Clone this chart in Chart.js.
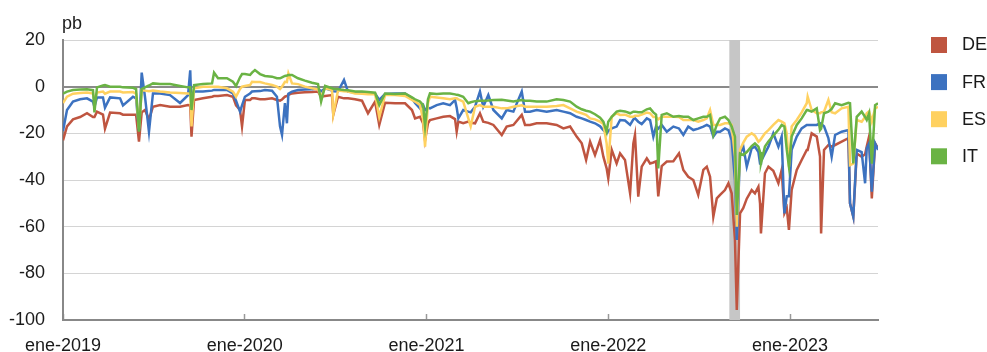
<!DOCTYPE html>
<html>
<head>
<meta charset="utf-8">
<script src="https://cdn.jsdelivr.net/npm/chart.js@4.4.1/dist/chart.umd.min.js"></script>
<style>
  html, body { margin: 0; padding: 0; background: #fff; }
  #caja { width: 987px; height: 352px; }
</style>
</head>
<body>
<div id="caja"><canvas id="grafico" width="987" height="352"></canvas></div>
<script>
// fechas en años decimales (2019.0 = 1 ene 2019)
var fechas = [
  2019.000, 2019.022, 2019.055, 2019.094, 2019.132, 2019.165, 2019.173, 2019.187, 2019.220, 2019.231,
  2019.259, 2019.314, 2019.330, 2019.385, 2019.402, 2019.418, 2019.433, 2019.451, 2019.473, 2019.495,
  2019.534, 2019.589, 2019.644, 2019.688, 2019.700, 2019.707, 2019.721, 2019.770, 2019.820, 2019.831,
  2019.853, 2019.902, 2019.935, 2019.952, 2019.974, 2019.985, 2020.001, 2020.029,
  2020.040, 2020.056, 2020.084, 2020.111, 2020.150, 2020.177, 2020.194, 2020.205, 2020.221, 2020.232,
  2020.240, 2020.260, 2020.293, 2020.331, 2020.370, 2020.403, 2020.420, 2020.442, 2020.480, 2020.487,
  2020.513, 2020.546, 2020.568, 2020.607, 2020.645, 2020.678, 2020.717, 2020.740, 2020.772, 2020.827,
  2020.882, 2020.920, 2020.937, 2020.964, 2020.981, 2020.992, 2021.008,
  2021.019, 2021.056, 2021.092, 2021.129, 2021.157, 2021.166, 2021.175, 2021.202, 2021.230, 2021.243,
  2021.267, 2021.294, 2021.312, 2021.340, 2021.368, 2021.414, 2021.441, 2021.478, 2021.524, 2021.542,
  2021.569, 2021.606, 2021.661, 2021.716, 2021.753, 2021.790, 2021.826, 2021.854, 2021.878, 2021.900,
  2021.927, 2021.955, 2021.973, 2021.991, 2022.000, 2022.019, 2022.046,
  2022.065, 2022.092, 2022.120, 2022.138, 2022.147, 2022.165, 2022.184, 2022.212, 2022.230, 2022.248,
  2022.263, 2022.275, 2022.294, 2022.322, 2022.358, 2022.389, 2022.413, 2022.440, 2022.468, 2022.495,
  2022.523, 2022.542, 2022.560, 2022.578, 2022.597, 2022.615, 2022.642, 2022.661, 2022.679, 2022.697,
  2022.707,
  2022.725, 2022.743, 2022.762, 2022.789, 2022.807, 2022.826, 2022.835, 2022.840, 2022.862, 2022.881,
  2022.908, 2022.936, 2022.954, 2022.969, 2022.982, 2022.994, 2023.009, 2023.037, 2023.064, 2023.092,
  2023.097, 2023.119, 2023.147, 2023.165, 2023.171, 2023.187, 2023.211, 2023.229, 2023.248, 2023.284,
  2023.321, 2023.330, 2023.348, 2023.367, 2023.394, 2023.413, 2023.422, 2023.435, 2023.450, 2023.468,
  2023.484
];

var de = [
  -23, -17, -14, -13, -11.4, -13, -13, -10.7, -12, -18,
  -11.1, -11.4, -12, -12, -12, -23.6, -11, -10, -14, -8.6,
  -7.9, -8.6, -8.6, -7.9, -8, -21.4, -5.7, -5, -4.3, -4,
  -4, -3.6, -4.3, -8, -10, -17, -5.7, -5.7,
  -5, -5, -5.4, -5.4, -5, -5.7, -6, -5.5, -4.3, -4,
  -3.5, -2.9, -2.6, -2.4, -2.3, -2.1, -4.3, -4, -3.6, -12,
  -4.3, -5, -5, -5.4, -6, -11.4, -6.4, -16.4, -6.9, -7.1,
  -7.1, -10, -13.6, -12.9, -15.7, -22.9, -15.7,
  -14.3, -13.6, -12.9, -12.6, -13.9, -19.3, -15, -15.7, -15, -15.5,
  -15.7, -11.4, -15, -15.5, -16.4, -20.7, -17.1, -16.4, -12.1, -16.4,
  -16.4, -15.7, -15.7, -16.4, -17.9, -17.1, -21.4, -24.3, -31.4, -23.6,
  -29.3, -22.9, -30, -35, -39.3, -27.1, -32.9,
  -28.6, -31.4, -45.7, -24.3, -20.7, -47.1, -34.3, -30.7, -32.9, -32.5,
  -32, -47, -34, -32.1, -32, -28.6, -35.7, -38.6, -40, -46.4,
  -35.7, -34.3, -38.6, -55.7, -47.9, -46.4, -44.3, -41.4, -45.7, -65.7,
  -95.7,
  -54.3, -52, -48, -44.3, -45.7, -42.9, -50, -62.9, -37.1, -34.3,
  -36, -41.4, -35.7, -54.3, -52, -61.4, -44.3, -35.7, -31.4, -27.1,
  -27.1, -20, -21.4, -30, -62.9, -27.1, -25, -25.7, -25, -23.6,
  -22.1, -50, -55.7, -28.6, -30, -29, -25.7, -21.4, -47.9, -24.3,
  -26.4
];

var fr = [
  -19, -10, -6.4, -5.4, -5, -6.4, -8.6, -4.6, -4.6, -9,
  -4.6, -5, -8, -4.3, -5, -19, 6, -4.3, -19.3, -2.9,
  -2.9, -3.6, -7, -3.6, 7, -10, -2.1, -2.1, -1.7, -1.4,
  -1.4, -1.4, -2.9, -6, -10.7, -8, -4.3, -2.9,
  -2.1, -2, -1.9, -1.4, -1.7, -4.3, -17, -20.7, -7, -15.7,
  -3, -2.1, -1.4, -1.2, -1.1, -0.7, -2, -0.7, -1.7, -2,
  -2.1, 2.9, -2.1, -2.5, -2.6, -2.9, -2.9, -5.7, -3.1, -2.9,
  -2.9, -5, -7, -9.3, -7.9, -10, -9,
  -9.3, -7.9, -7.1, -7.9, -5.7, -9, -13.6, -10, -10.7, -11,
  -8.6, -2.1, -8.6, -3.6, -10, -13.6, -10, -10.7, -2.1, -10.7,
  -10.7, -10, -10.7, -10, -10.7, -11.4, -12.9, -13.6, -14.3, -15,
  -15.7, -17, -18.6, -20, -19, -17.9, -17.1,
  -14.3, -14.5, -16.4, -14, -13.6, -15, -16, -13.6, -14.3, -21.4,
  -17, -18, -16.4, -19.3, -17.1, -17.9, -20.7, -17.1, -18.6, -18,
  -17.1, -16.4, -17.1, -21.4, -19.3, -19.3, -17.9, -18.6, -22.9, -40,
  -65.7,
  -28.6, -25.7, -34.3, -26.4, -25.7, -28, -32.9, -32, -28.6, -25.7,
  -20, -25.7, -21.4, -54.3, -47, -47, -27.1, -21.4, -17.9, -16.4,
  -16.4, -16.4, -16.4, -15.7, -16, -17, -22, -30, -20.7, -19.3,
  -18.6, -50, -55.7, -27.1, -28, -41.4, -26.4, -24.3, -45, -24.3,
  -27.1
];

var es = [
  -7, -4.3, -3, -2.7, -2.5, -2.9, -6, -2.5, -2.1, -3,
  -2.1, -2.1, -2.5, -2.3, -3, -18, -1.5, -1.7, -2, -1.7,
  -2.1, -2.5, -2.7, -2.9, -3, -17, -0.7, 0, 0, 0,
  0, -0.7, -2.1, -4.3, -1, 0, 0.3, 0.7,
  2.1, 2, 2, 1.4, 0.7, 0, -1, 0, 2.1, 2,
  5.7, 1.4, 1.1, 0, -0.7, -1.1, -4.3, -0.7, -1.4, -12,
  -1.7, -2, -2.1, -2.9, -3, -3.2, -3.2, -13, -3.6, -3.6,
  -4, -5.7, -6.4, -7.9, -14, -25.7, -7.1,
  -4.3, -4.6, -5, -5.4, -5, -5, -5.4, -6.4, -13.6, -17,
  -8.6, -7.9, -8.6, -8.6, -8.6, -9.3, -9.3, -8.6, -8, -8.6,
  -8.6, -8.6, -8.6, -8.3, -7.9, -9.3, -10.7, -11.4, -12.1, -13.6,
  -14, -15, -16, -24.3, -33, -12.9, -11.4,
  -12.1, -12, -12.9, -12.9, -12.5, -12.5, -12, -11.1, -11.4, -13,
  -13, -14, -12.9, -12.9, -12.9, -13, -14.3, -14.3, -14.3, -15,
  -14.3, -13.6, -10, -16.4, -16.4, -16.4, -15.7, -15.7, -16.4, -30,
  -60,
  -27, -24, -21.4, -20, -21, -23.6, -23, -23, -20, -18.6,
  -16.4, -14.3, -15, -15.7, -20, -34.3, -17.1, -14.3, -11, -7.1,
  -4.3, -10, -11.4, -11.4, -11, -10.7, -5.7, -11, -11.4, -9.3,
  -8.6, -33.6, -33, -14.3, -15, -13, -11.4, -10.5, -15, -9.3,
  -8.6
];

var it = [
  -3, -2.1, -1.4, -1.2, -1.1, -1.5, -11, -0.3, 0.5, 0.7,
  0, 0, -0.3, -0.5, -1, -19.3, -1, -0.3, 0.5, 1.4,
  1.1, 1.1, 0.3, -0.3, -0.3, -10, 0.7, 1.1, 1.4, 6,
  3.6, 3.6, 2.1, 0.3, 4, 5.4, 5.4, 5,
  6, 7.1, 5.4, 4.6, 4.3, 3.6, 3.6, 4, 4.6, 4.8,
  5, 5, 3.6, 2.6, 1.7, 1.1, -6.4, 0.3, -0.7, -0.9,
  -1.1, -1.4, -1.5, -2.1, -2.1, -2.3, -2.6, -7.9, -2.9, -3.1,
  -2.9, -4.6, -5.4, -6.4, -7.9, -17, -5.4,
  -2.9, -3.1, -2.9, -2.9, -3.3, -3.5, -3.6, -4.3, -7.1, -6.7,
  -6.2, -6, -6, -5.9, -5.7, -5.6, -5.9, -6.4, -5.7, -6,
  -6, -6.4, -6.4, -5.4, -5.7, -6.4, -8.6, -9.7, -10.3, -10.7,
  -11.8, -13.3, -15, -19.3, -15, -12.9, -10.7,
  -10.3, -10.6, -11.4, -10.7, -10.7, -11, -11, -9.7, -9.3, -11,
  -12, -35, -12.1, -11.4, -12.9, -12.6, -12.9, -12.9, -14.3, -13.6,
  -12.9, -12.9, -12.1, -20.7, -16.4, -13.6, -12.9, -14.3, -17.1, -21.4,
  -55,
  -28.6, -29.3, -28, -25.5, -24.3, -25.7, -28, -32.9, -25.7, -23.5,
  -21, -18.5, -16.4, -17.1, -27, -34.3, -21.4, -16.4, -13.6, -10,
  -10, -10.7, -9.3, -18.6, -18, -11.4, -10.7, -9.5, -7.1, -7.9,
  -6.9, -7.1, -32.9, -12.9, -10.7, -13, -14.3, -11.4, -33, -7.9,
  -7.1
];

var series = ['DE', 'FR', 'ES', 'IT'];
var colores = ['#BF5540', '#3C72C0', '#FFD160', '#6AB344'];
var valores = [de, fr, es, it];

var anosEje = [2019, 2020, 2021, 2022, 2023];
var etiquetasEje = ['ene-2019', 'ene-2020', 'ene-2021', 'ene-2022', 'ene-2023'];
var fechaFin = 2023.484;
var bandaInicio = 2022.666;
var bandaFin = 2022.725;

var fuente = '"Liberation Sans", Arial, Helvetica, sans-serif';
Chart.defaults.font.family = fuente;
Chart.defaults.color = '#1a1a1a';

var bandaPlugin = {
  id: 'banda',
  beforeDatasetsDraw: function (chart) {
    var x = chart.scales.x, a = chart.chartArea, ctx = chart.ctx;
    var x1 = x.getPixelForValue(bandaInicio), x2 = x.getPixelForValue(bandaFin);
    ctx.save();
    ctx.fillStyle = '#C6C6C6';
    ctx.fillRect(x1, a.top, x2 - x1, a.bottom - a.top);
    ctx.restore();
  }
};

var textosPlugin = {
  id: 'textos',
  afterDraw: function (chart) {
    var ctx = chart.ctx;
    ctx.save();
    ctx.font = '18px ' + fuente;
    ctx.fillStyle = '#1a1a1a';
    ctx.textBaseline = 'alphabetic';
    ctx.fillText('pb', 62, 29);
    // leyenda a la derecha
    ctx.textBaseline = 'middle';
    chart.data.datasets.forEach(function (d, i) {
      var y = 37 + i * 37.1;
      ctx.fillStyle = d.borderColor;
      ctx.fillRect(931, y, 16, 16);
      ctx.fillStyle = '#1a1a1a';
      ctx.fillText(d.label, 962, y + 8.5);
    });
    ctx.restore();
  }
};

var conjuntos = series.map(function (nombre, i) {
  return {
    label: nombre,
    data: fechas.map(function (f, j) { return { x: f, y: valores[i][j] }; }),
    borderColor: colores[i],
    backgroundColor: colores[i],
    borderWidth: 2.5,
    pointRadius: 0,
    tension: 0,
    order: series.length - 1 - i
  };
});

new Chart(document.getElementById('grafico'), {
  type: 'line',
  data: { datasets: conjuntos },
  options: {
    responsive: false,
    animation: false,
    layout: { padding: { top: 40, right: 109, left: 0, bottom: 0 } },
    plugins: { legend: { display: false }, tooltip: { enabled: false } },
    scales: {
      x: {
        type: 'linear',
        min: anosEje[0],
        max: fechaFin,
        afterBuildTicks: function (s) {
          s.ticks = anosEje.map(function (a) { return { value: a }; });
        },
        afterFit: function (s) { s.height = 32; },
        ticks: {
          font: { size: 18 },
          padding: 21,
          maxRotation: 0,
          autoSkip: false,
          callback: function (v) {
            var k = anosEje.indexOf(v);
            return k >= 0 ? etiquetasEje[k] : '';
          }
        },
        grid: { drawOnChartArea: false, tickLength: -6, color: '#999', tickWidth: 1.5 },
        border: { color: '#888', width: 2 }
      },
      y: {
        min: -100,
        max: 20,
        afterFit: function (s) { s.width = 63; },
        ticks: { stepSize: 20, font: { size: 18 }, padding: 18 },
        grid: {
          drawTicks: false,
          color: function (c) { return c.tick && c.tick.value === 0 ? '#8a8a8a' : '#d4d4d4'; },
          lineWidth: function (c) { return c.tick && c.tick.value === 0 ? 2 : 1; }
        },
        border: { color: '#888', width: 2 }
      }
    }
  },
  plugins: [bandaPlugin, textosPlugin]
});
</script>
</body>
</html>
